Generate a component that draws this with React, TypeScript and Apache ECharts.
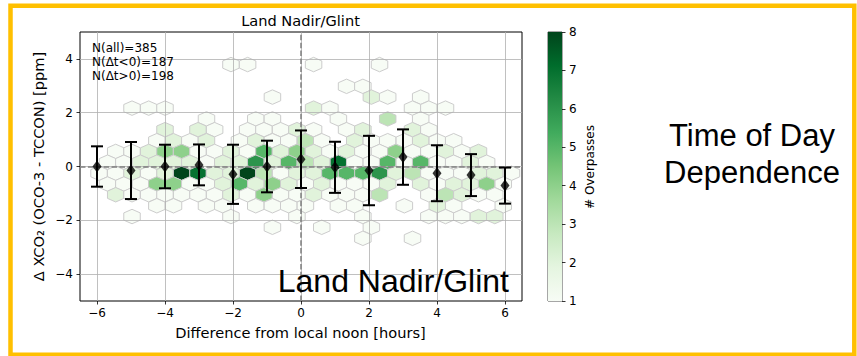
import React, { useEffect, useRef } from "react";
import * as echarts from "echarts";

// ---------- data ----------
const xTicks = [-6, -4, -2, 0, 2, 4, 6];
const yTicks = [-4, -2, 0, 2, 4];

// hour bins with mean and standard deviation of dXCO2
const hourBins = [-6, -5, -4, -3, -2, -1, 0, 1, 2, 3, 4, 5, 6];
const hourMean = [0.0, -0.15, 0.0, 0.06, -0.29, 0.0, 0.27, -0.03, -0.15, 0.35, -0.25, -0.32, -0.71];
const hourStd = [0.75, 1.06, 0.81, 0.76, 1.1, 0.96, 1.07, 0.95, 1.29, 1.03, 1.04, 0.78, 0.67];

// hexbin cells: [x centre, y centre, count]
const hexCells: number[][] = [
  // y 3.79
  [-2.06, 3.79, 1], [-1.57, 3.79, 1], [0.37, 3.79, 1], [2.31, 3.79, 1],
  // y 2.98
  [1.34, 2.98, 1], [1.82, 2.98, 1],
  // y 2.58
  [-0.84, 2.58, 1], [2.07, 2.58, 2], [2.55, 2.58, 1], [3.52, 2.58, 1],
  // y 2.17
  [-4.97, 2.17, 1], [-4.48, 2.17, 1], [-4.0, 2.17, 1], [0.37, 2.17, 2], [0.85, 2.17, 1],
  [3.28, 2.17, 1], [3.76, 2.17, 1], [4.25, 2.17, 1],
  // y 1.77
  [-2.78, 1.77, 1], [-1.33, 1.77, 1], [-0.84, 1.77, 1], [1.1, 1.77, 1], [2.55, 1.77, 3], [3.52, 1.77, 1],
  // y 1.37
  [-4.0, 1.37, 2], [-3.03, 1.37, 2], [-2.54, 1.37, 1], [-1.57, 1.37, 1], [-1.09, 1.37, 1],
  [-0.6, 1.37, 1], [-0.12, 1.37, 2], [0.37, 1.37, 1], [1.34, 1.37, 1], [1.82, 1.37, 2],
  [3.28, 1.37, 2], [3.76, 1.37, 1],
  // y 0.96
  [-4.24, 0.96, 1], [-3.75, 0.96, 2], [-3.27, 0.96, 1], [-2.78, 0.96, 2], [-1.81, 0.96, 1],
  [-1.33, 0.96, 2], [-0.84, 0.96, 1], [-0.36, 0.96, 1], [0.13, 0.96, 3], [0.61, 0.96, 1],
  [1.58, 0.96, 2], [2.07, 0.96, 1], [2.55, 0.96, 1], [3.04, 0.96, 1], [3.52, 0.96, 2],
  [4.01, 0.96, 1], [4.49, 0.96, 1],
  // y 0.56
  [-5.45, 0.56, 1], [-4.97, 0.56, 1], [-4.48, 0.56, 2], [-4.0, 0.56, 4], [-3.51, 0.56, 4],
  [-3.03, 0.56, 1], [-2.54, 0.56, 1], [-2.06, 0.56, 2], [-1.57, 0.56, 1], [-1.09, 0.56, 5],
  [-0.6, 0.56, 2], [-0.12, 0.56, 4], [0.37, 0.56, 2], [0.85, 0.56, 1], [1.34, 0.56, 2],
  [1.82, 0.56, 1], [2.31, 0.56, 1], [2.79, 0.56, 4], [3.28, 0.56, 1], [3.76, 0.56, 1],
  [4.25, 0.56, 2], [4.73, 0.56, 1], [5.22, 0.56, 2],
  // y 0.16
  [-5.69, 0.16, 1], [-5.21, 0.16, 1], [-4.72, 0.16, 2], [-4.24, 0.16, 2], [-3.75, 0.16, 2],
  [-3.27, 0.16, 2], [-2.78, 0.16, 1], [-2.3, 0.16, 2], [-1.81, 0.16, 2], [-1.33, 0.16, 6],
  [-0.84, 0.16, 2], [-0.36, 0.16, 5], [0.13, 0.16, 3], [0.61, 0.16, 2], [1.1, 0.16, 7],
  [1.58, 0.16, 1], [2.07, 0.16, 1], [2.55, 0.16, 5], [3.04, 0.16, 1], [3.52, 0.16, 5],
  [4.01, 0.16, 1], [4.49, 0.16, 1], [4.98, 0.16, 2], [5.46, 0.16, 1],
  // y -0.25
  [-5.94, -0.25, 1], [-5.45, -0.25, 1], [-4.97, -0.25, 2], [-4.48, -0.25, 1], [-4.0, -0.25, 2],
  [-3.51, -0.25, 8], [-3.03, -0.25, 7], [-2.54, -0.25, 2], [-2.06, -0.25, 2], [-1.57, -0.25, 8],
  [-1.09, -0.25, 3], [-0.6, -0.25, 1], [-0.12, -0.25, 2], [0.37, -0.25, 2], [0.85, -0.25, 5],
  [1.34, -0.25, 5], [1.82, -0.25, 5], [2.31, -0.25, 6], [2.79, -0.25, 2], [3.28, -0.25, 3],
  [3.76, -0.25, 1], [4.25, -0.25, 1], [4.73, -0.25, 1], [5.22, -0.25, 2], [5.7, -0.25, 2],
  [6.19, -0.25, 1],
  // y -0.65
  [-5.69, -0.65, 1], [-5.21, -0.65, 1], [-4.72, -0.65, 1], [-4.24, -0.65, 4], [-3.75, -0.65, 4],
  [-3.27, -0.65, 1], [-2.78, -0.65, 1], [-2.3, -0.65, 2], [-1.81, -0.65, 5], [-1.33, -0.65, 2],
  [-0.84, -0.65, 4], [-0.36, -0.65, 2], [0.13, -0.65, 1], [0.61, -0.65, 2], [1.1, -0.65, 1],
  [1.58, -0.65, 1], [2.07, -0.65, 1], [2.55, -0.65, 2], [3.52, -0.65, 2], [4.01, -0.65, 1],
  [4.49, -0.65, 2], [4.98, -0.65, 2], [5.46, -0.65, 4], [5.95, -0.65, 1],
  // y -1.05
  [-5.45, -1.05, 2], [-4.97, -1.05, 1], [-4.48, -1.05, 1], [-4.0, -1.05, 1], [-3.51, -1.05, 1],
  [-3.03, -1.05, 1], [-2.54, -1.05, 1], [-2.06, -1.05, 2], [-1.57, -1.05, 1], [-1.09, -1.05, 4],
  [-0.6, -1.05, 1], [-0.12, -1.05, 1], [0.37, -1.05, 2], [0.85, -1.05, 1], [1.34, -1.05, 1],
  [1.82, -1.05, 1], [2.31, -1.05, 3], [3.76, -1.05, 1], [4.25, -1.05, 3], [4.73, -1.05, 2],
  [5.22, -1.05, 1], [5.7, -1.05, 1],
  // y -1.46
  [-4.24, -1.46, 1], [-3.75, -1.46, 1], [-2.78, -1.46, 1], [-2.3, -1.46, 1], [-1.33, -1.46, 1],
  [-0.84, -1.46, 1], [-0.36, -1.46, 1], [0.13, -1.46, 1], [1.1, -1.46, 1], [1.58, -1.46, 1],
  [3.04, -1.46, 1], [4.01, -1.46, 2], [4.49, -1.46, 1], [5.95, -1.46, 1],
  // y -1.86
  [-4.97, -1.86, 1], [-2.06, -1.86, 1], [-0.12, -1.86, 1], [1.82, -1.86, 1], [3.76, -1.86, 1],
  [4.25, -1.86, 1], [4.73, -1.86, 1], [5.22, -1.86, 2], [5.7, -1.86, 2],
  // y -2.26
  [-0.84, -2.26, 1], [0.61, -2.26, 1], [2.07, -2.26, 1],
  // y -2.67
  [1.82, -2.67, 1], [3.28, -2.67, 1],
];

const greens = ["#f7fcf5", "#e5f5e0", "#c7e9c0", "#a1d99b", "#74c476", "#41ab5d", "#238b45", "#006d2c", "#00441b"];

// hexbin bin size (data units)
const SX = 0.485;
const SY = 0.807;
const hexOffsets = [
  [SX / 2, -SY / 6], [SX / 2, SY / 6], [0, SY / 3],
  [-SX / 2, SY / 6], [-SX / 2, -SY / 6], [0, -SY / 3],
];

const minus = (v: number) => String(v).replace("-", "\u2212");
const MPL = '"DejaVu Sans", sans-serif';
const ARIAL = '"Liberation Sans", Arial, sans-serif';

export default function App() {
  const ref = useRef<HTMLDivElement>(null);
  useEffect(() => {
    if (!ref.current) return;
    const chart = echarts.init(ref.current, undefined, { renderer: "svg" });

    const option: any = {
      animation: false,
      backgroundColor: "#ffffff",
      textStyle: { fontFamily: MPL },
      grid: [
        { left: 80, top: 32, width: 442, height: 269, show: true, borderColor: "#000", borderWidth: 1, backgroundColor: "transparent" },
        { left: 548, top: 32, width: 14, height: 269, show: true, borderColor: "#222", borderWidth: 0.8, backgroundColor: "transparent" },
      ],
      xAxis: [
        {
          type: "value", gridIndex: 0, min: -6.5, max: 6.5,
          axisLine: { show: false, onZero: false },
          axisTick: { show: true, customValues: xTicks, length: 3.5, lineStyle: { color: "#000", width: 0.8 } },
          axisLabel: { show: true, customValues: xTicks, formatter: minus, color: "#000", fontSize: 12, fontFamily: MPL, margin: 6 },
          splitLine: { show: false },
        },
        { type: "value", gridIndex: 1, min: 0, max: 1, show: false },
      ],
      yAxis: [
        {
          type: "value", gridIndex: 0, min: -5, max: 5,
          axisLine: { show: false, onZero: false },
          axisTick: { show: true, customValues: yTicks, length: 3.5, lineStyle: { color: "#000", width: 0.8 } },
          axisLabel: { show: true, customValues: yTicks, formatter: minus, color: "#000", fontSize: 12, fontFamily: MPL, margin: 7 },
          splitLine: { show: false },
        },
        {
          type: "value", gridIndex: 1, min: 1, max: 8, interval: 1, position: "right",
          axisLine: { show: false, onZero: false },
          axisTick: { show: true, length: 3.5, lineStyle: { color: "#000", width: 0.8 } },
          axisLabel: { show: true, color: "#000", fontSize: 12, fontFamily: MPL, margin: 7 },
          splitLine: { show: false },
        },
      ],
      visualMap: {
        type: "continuous", show: false, min: 1, max: 8, dimension: 2, seriesIndex: 0,
        inRange: { color: greens },
      },
      series: [
        {
          type: "custom", xAxisIndex: 0, yAxisIndex: 0, z: 2,
          data: hexCells,
          encode: { x: 0, y: 1 },
          renderItem: (params: any, api: any) => {
            const x = api.value(0);
            const y = api.value(1);
            const pts = hexOffsets.map(([dx, dy]) => api.coord([x + dx, y + dy]));
            return {
              type: "polygon",
              shape: { points: pts },
              style: { fill: api.visual("color"), stroke: "#cccccc", lineWidth: 1 },
            };
          },
        },
        {
          type: "scatter", xAxisIndex: 0, yAxisIndex: 0, z: 3, data: [], silent: true,
          markLine: {
            silent: true, symbol: "none", label: { show: false },
            lineStyle: { color: "#b0b0b0", width: 0.8, type: "solid" },
            data: [...xTicks.map((v) => ({ xAxis: v })), ...yTicks.map((v) => ({ yAxis: v }))],
          },
        },
        {
          type: "scatter", xAxisIndex: 0, yAxisIndex: 0, z: 4, data: [], silent: true,
          markLine: {
            silent: true, symbol: "none", label: { show: false },
            lineStyle: { color: "#7f7f7f", width: 1.5, type: [5.5, 2.4] },
            data: [{ xAxis: 0 }, { yAxis: 0 }],
          },
        },
        {
          type: "custom", xAxisIndex: 0, yAxisIndex: 0, z: 5,
          data: hourBins.map((h, i) => [h, hourMean[i], hourStd[i]]),
          encode: { x: 0, y: 1 },
          renderItem: (params: any, api: any) => {
            const x = api.value(0);
            const m = api.value(1);
            const s = api.value(2);
            const top = api.coord([x, m + s]);
            const bot = api.coord([x, m - s]);
            const cap = 6;
            const st = { stroke: "#000", lineWidth: 2 };
            return {
              type: "group",
              children: [
                { type: "line", shape: { x1: top[0], y1: top[1], x2: bot[0], y2: bot[1] }, style: st },
                { type: "line", shape: { x1: top[0] - cap, y1: top[1], x2: top[0] + cap, y2: top[1] }, style: st },
                { type: "line", shape: { x1: bot[0] - cap, y1: bot[1], x2: bot[0] + cap, y2: bot[1] }, style: st },
              ],
            };
          },
        },
        {
          type: "scatter", xAxisIndex: 0, yAxisIndex: 0, z: 6,
          data: hourBins.map((h, i) => [h, hourMean[i]]),
          symbol: "diamond", symbolSize: [9, 12],
          itemStyle: { color: "#000" },
        },
        {
          type: "custom", xAxisIndex: 1, yAxisIndex: 1, z: 2,
          data: [[0.5, 4.5]],
          renderItem: (params: any, api: any) => {
            const cs = params.coordSys;
            return {
              type: "rect",
              shape: { x: cs.x, y: cs.y, width: cs.width, height: cs.height },
              style: {
                fill: new echarts.graphic.LinearGradient(0, 0, 0, 1,
                  greens.slice().reverse().map((c, i) => ({ offset: i / (greens.length - 1), color: c }))),
              },
            };
          },
        },
      ],
      graphic: [
        { type: "text", x: 300.5, y: 20, style: { text: "Land Nadir/Glint", font: `14.6px ${MPL}`, fill: "#000", textAlign: "center", textVerticalAlign: "middle" } },
        { type: "text", x: 92, y: 47.5, z: 20, style: { text: "N(all)=385", font: `12px ${MPL}`, fill: "#000", textAlign: "left", textVerticalAlign: "middle" } },
        { type: "text", x: 92, y: 61.8, z: 20, style: { text: "N(\u0394t<0)=187", font: `12px ${MPL}`, fill: "#000", textAlign: "left", textVerticalAlign: "middle" } },
        { type: "text", x: 92, y: 76, z: 20, style: { text: "N(\u0394t>0)=198", font: `12px ${MPL}`, fill: "#000", textAlign: "left", textVerticalAlign: "middle" } },
        { type: "text", x: 300.5, y: 332.2, style: { text: "Difference from local noon [hours]", font: `14.6px ${MPL}`, fill: "#000", textAlign: "center", textVerticalAlign: "middle" } },
        { type: "text", x: 38, y: 166.5, rotation: Math.PI / 2, style: { text: "\u0394 XCO\u2082 (OCO-3 - TCCON) [ppm]", font: `14.6px ${MPL}`, fill: "#000", textAlign: "center", textVerticalAlign: "middle" } },
        { type: "text", x: 590, y: 167, rotation: Math.PI / 2, style: { text: "# Overpasses", font: `12px ${MPL}`, fill: "#000", textAlign: "center", textVerticalAlign: "middle" } },
        { type: "text", x: 509, y: 281.3, z: 20, style: { text: "Land Nadir/Glint", font: `32px ${ARIAL}`, fill: "#000", textAlign: "right", textVerticalAlign: "middle" } },
        { type: "text", x: 752, y: 135.8, style: { text: "Time of Day", font: `31px ${ARIAL}`, fill: "#000", textAlign: "center", textVerticalAlign: "middle" } },
        { type: "text", x: 752, y: 172.5, style: { text: "Dependence", font: `31px ${ARIAL}`, fill: "#000", textAlign: "center", textVerticalAlign: "middle" } },
        { type: "rect", z: 30, shape: { x: 10.5, y: 5.8, width: 843.8, height: 349 }, style: { fill: "none", stroke: "#FFC000", lineWidth: 4.5 } },
      ],
    };

    chart.setOption(option);
    return () => chart.dispose();
  }, []);

  return (
    <div
      ref={ref}
      style={{ position: "absolute", left: 0, top: 0, width: 857, height: 356, background: "#fff" }}
    />
  );
}
